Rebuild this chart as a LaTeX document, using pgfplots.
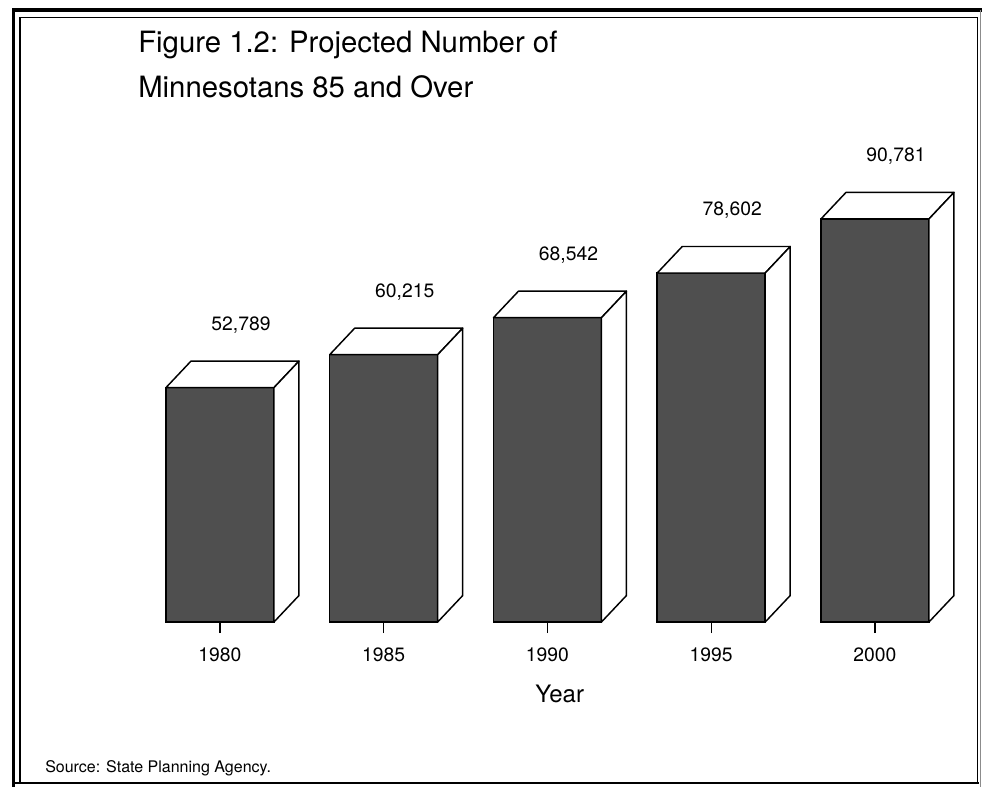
\documentclass[border=0pt]{standalone}
\usepackage{fontspec}
\setmainfont{TeX Gyre Heros}
\usepackage{pgfplots}
\pgfplotsset{compat=1.18}

% white top and right-hand faces of a box bar at position #1 with value #2
\newcommand{\boxfaces}[2]{%
  \draw[fill=white, line width=1.1pt, line join=round]
    ([xshift=-40.5pt]axis cs:#1,#2) -- ++(18.75pt,19.875pt) -- ++(81pt,0pt)
    -- ++(-18.75pt,-19.875pt) -- cycle;
  \draw[fill=white, line width=1.1pt, line join=round]
    ([xshift=40.5pt]axis cs:#1,0) -- ++(18.75pt,19.875pt)
    -- ([xshift=59.25pt,yshift=19.875pt]axis cs:#1,#2)
    -- ([xshift=40.5pt]axis cs:#1,#2) -- cycle;
}

\begin{document}
\begin{tikzpicture}
% page frame, in pixel units
\begin{scope}[x=0.75pt,y=-0.75pt]
  \fill[white] (0,0) rectangle (982,787);
  \draw[line width=3pt] (12,10.5) -- (982,10.5);
  \draw[line width=2.4pt] (13.5,10) -- (13.5,787);
  \draw[line width=1.1pt] (20,783) -- (20,17.5) -- (977.5,17.5) -- (977.5,783);
  \draw[line width=2pt] (12,783) -- (979,783);
  \draw[line width=0.8pt, black!45] (980.5,10) -- (980.5,787);
  \node[anchor=base west, inner sep=0pt, font=\fontsize{22}{26}\selectfont]
    at (138,53) {Figure 1.2: Projected Number of};
  \node[anchor=base west, inner sep=0pt, font=\fontsize{22}{26}\selectfont]
    at (138,98) {Minnesotans 85 and Over};
  \node[anchor=base west, inner sep=0pt, font=\fontsize{12}{14}\selectfont]
    at (45,772) {Source: State Planning Agency.};
\end{scope}

\begin{axis}[
  at={(103.575pt,-466.5pt)}, anchor=south west,
  scale only axis, width=614.0625pt, height=333pt,
  xmin=-0.5, xmax=4.5, ymin=0, ymax=100000,
  clip=false,
  axis y line=none,
  axis x line*=bottom,
  x axis line style={draw=none},
  xtick={0,1,2,3,4},
  xticklabels={1980,1985,1990,1995,2000},
  tick align=outside,
  major tick length=8.25pt,
  xtick style={draw=black, line width=0.9pt},
  xticklabel style={font=\fontsize{14.5}{17}\selectfont, yshift=-7.5pt},
  xlabel={Year},
  xlabel style={at={(axis description cs:0.515,-0.1824)}, anchor=base,
    font=\fontsize{18}{21}\selectfont},
  ybar, bar width=0.6595,
  nodes near coords,
  every node near coord/.append style={font=\fontsize{14.5}{17}\selectfont,
    anchor=center, xshift=15.75pt, yshift=47.25pt, black},
  /pgf/number format/.cd, fixed, 1000 sep={,}, assume math mode=true,
]
\addplot[fill=black!69, draw=black, line width=1.1pt]
  coordinates {(0,52789) (1,60215) (2,68542) (3,78602) (4,90781)};
\boxfaces{0}{52789}
\boxfaces{1}{60215}
\boxfaces{2}{68542}
\boxfaces{3}{78602}
\boxfaces{4}{90781}
\end{axis}

\begin{scope}[x=0.75pt,y=-0.75pt]
  \pgfresetboundingbox
  \useasboundingbox (0,0) rectangle (982,787);
\end{scope}
\end{tikzpicture}
\end{document}
